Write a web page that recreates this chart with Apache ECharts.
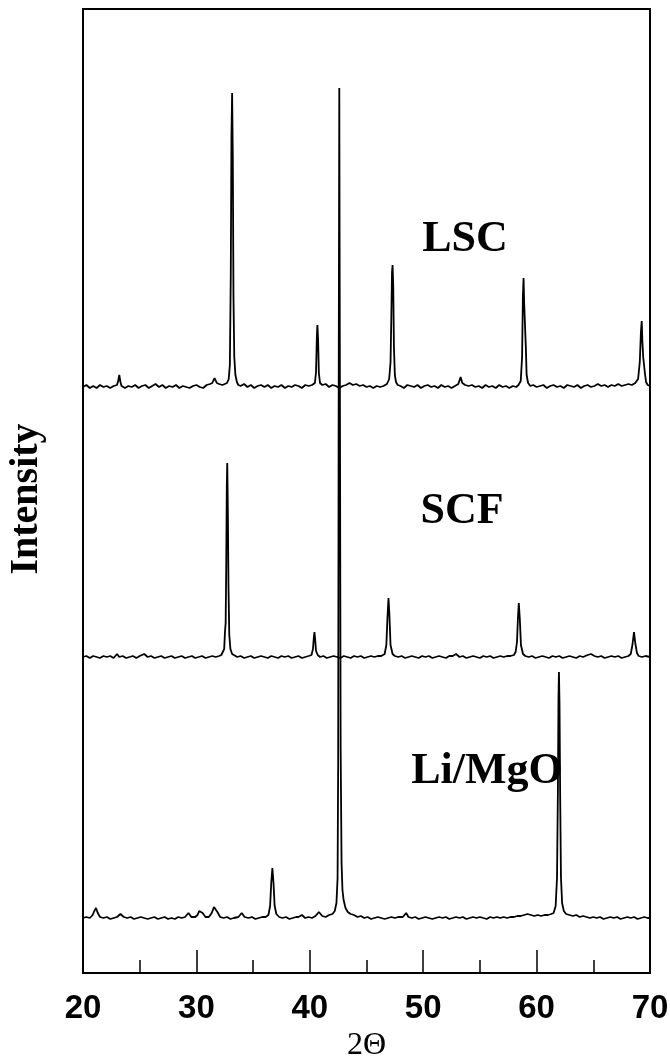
<!DOCTYPE html>
<html>
<head>
<meta charset="utf-8">
<script src="https://cdn.jsdelivr.net/npm/echarts@6/dist/echarts.min.js"></script>
<style>
  html, body { margin: 0; padding: 0; background: #fff; }
  #chart { width: 670px; height: 1059px; }
</style>
</head>
<body>
<div id="chart"></div>
<script>
// X-ray diffraction patterns: [2-theta (deg), intensity above the pattern's own baseline]
const lscPattern = [
  [20.0,0],[20.3,2],[20.6,-1],[20.9,1],[21.2,-1],[21.5,2],[21.8,0],[22.1,1],[22.4,-1],[22.7,1],
  [23.0,2],[23.1,6],[23.2,12],[23.3,5],[23.4,1],[23.7,-1],[24.0,1],[24.3,0],[24.6,2],[24.9,-1],
  [25.2,1],[25.5,2],[25.8,-1],[26.1,1],[26.4,3],[26.7,0],[27.0,2],[27.3,-1],[27.6,1],[27.9,0],
  [28.2,2],[28.5,-1],[28.8,1],[29.1,0],[29.4,-1],[29.7,1],[30.0,2],[30.3,0],[30.6,-1],[30.9,2],
  [31.2,3],[31.4,4],[31.6,9],[31.8,4],[32.0,3],[32.3,2],[32.5,3],[32.7,4],[32.85,8],[32.95,22],
  [33.03,110],[33.09,250],[33.15,294],[33.21,230],[33.27,90],[33.34,30],[33.44,12],[33.57,5],[33.7,2],[33.9,1],
  [34.2,3],[34.5,0],[34.8,2],[35.1,-1],[35.4,1],[35.7,2],[36.0,0],[36.3,2],[36.6,-1],[36.9,1],
  [37.2,0],[37.5,2],[37.8,-1],[38.1,1],[38.4,0],[38.7,2],[39.0,1],[39.3,-1],[39.6,2],[39.9,1],
  [40.2,2],[40.45,4],[40.55,15],[40.62,50],[40.67,62],[40.73,48],[40.8,14],[40.9,4],[41.1,2],[41.4,3],
  [41.7,0],[42.0,2],[42.3,1],[42.6,-1],[42.9,1],[43.2,2],[43.5,4],[43.8,2],[44.1,3],[44.4,1],
  [44.7,2],[45.0,0],[45.3,1],[45.6,-1],[45.9,1],[46.2,0],[46.5,1],[46.8,3],[47.0,8],[47.12,25],
  [47.19,70],[47.25,115],[47.3,122],[47.36,100],[47.42,40],[47.5,12],[47.6,5],[47.75,2],[48.0,1],[48.3,-1],
  [48.6,2],[48.9,1],[49.2,0],[49.5,2],[49.8,-1],[50.1,1],[50.4,2],[50.7,0],[51.0,1],[51.3,-1],
  [51.6,2],[51.9,0],[52.2,1],[52.5,-1],[52.8,1],[53.1,3],[53.3,10],[53.45,4],[53.7,2],[54.0,1],
  [54.3,2],[54.6,0],[54.9,1],[55.2,-1],[55.5,2],[55.8,0],[56.1,1],[56.4,-1],[56.7,2],[57.0,0],
  [57.3,1],[57.6,-1],[57.9,1],[58.2,0],[58.4,2],[58.6,6],[58.72,30],[58.79,90],[58.85,109],[58.9,85],
  [58.95,70],[59.0,72],[59.05,40],[59.12,12],[59.25,4],[59.45,1],[59.7,2],[60.0,0],[60.3,1],[60.6,2],
  [60.9,-1],[61.2,1],[61.5,2],[61.8,0],[62.1,1],[62.4,-1],[62.7,2],[63.0,1],[63.3,0],[63.6,2],
  [63.9,-1],[64.2,1],[64.5,2],[64.8,0],[65.1,1],[65.4,3],[65.7,1],[66.0,2],[66.3,0],[66.6,2],
  [66.9,1],[67.2,3],[67.5,1],[67.8,2],[68.1,3],[68.4,2],[68.7,4],[68.95,8],[69.1,25],[69.2,55],
  [69.27,66],[69.33,45],[69.4,30],[69.47,28],[69.55,14],[69.65,5],[69.8,2],[70.0,1]
];

const scfPattern = [
  [20.0,0],[20.3,1],[20.6,-1],[20.9,1],[21.2,0],[21.5,-1],[21.8,1],[22.1,0],[22.4,1],[22.7,-1],
  [23.0,3],[23.2,0],[23.5,1],[23.8,-1],[24.1,0],[24.4,1],[24.7,-1],[25.0,1],[25.4,3],[25.7,0],
  [26.0,1],[26.3,-1],[26.6,0],[26.9,1],[27.2,-1],[27.5,0],[27.8,1],[28.1,-1],[28.4,0],[28.7,1],
  [29.0,-1],[29.3,0],[29.6,1],[29.9,-1],[30.2,0],[30.5,1],[30.8,-1],[31.1,0],[31.4,1],[31.7,0],
  [32.0,1],[32.2,2],[32.35,4],[32.45,8],[32.52,25],[32.58,34],[32.63,90],[32.68,170],[32.72,194],[32.77,150],
  [32.83,70],[32.9,22],[33.0,8],[33.15,3],[33.3,1],[33.6,0],[33.9,1],[34.2,-1],[34.5,0],[34.8,1],
  [35.1,-1],[35.4,0],[35.7,1],[36.0,0],[36.3,-1],[36.6,1],[36.9,0],[37.2,-1],[37.5,1],[37.8,0],
  [38.1,1],[38.4,-1],[38.7,0],[39.0,1],[39.3,-1],[39.6,0],[39.9,1],[40.15,2],[40.28,8],[40.36,20],
  [40.41,25],[40.47,18],[40.55,6],[40.7,2],[40.9,0],[41.2,1],[41.5,-1],[41.8,0],[42.1,1],[42.4,0],
  [42.7,-1],[43.0,1],[43.3,0],[43.6,-1],[43.9,1],[44.2,0],[44.5,1],[44.8,-1],[45.1,0],[45.4,1],
  [45.7,0],[46.0,1],[46.3,1],[46.6,3],[46.75,12],[46.85,40],[46.94,59],[47.02,42],[47.12,12],[47.3,3],
  [47.5,1],[47.8,0],[48.1,1],[48.4,-1],[48.7,0],[49.0,1],[49.3,0],[49.6,-1],[49.9,1],[50.2,0],
  [50.5,1],[50.8,-1],[51.1,0],[51.4,1],[51.7,0],[52.0,-1],[52.3,1],[52.6,1],[52.9,3],[53.2,0],
  [53.5,1],[53.8,-1],[54.1,0],[54.4,1],[54.7,0],[55.0,-1],[55.3,1],[55.6,0],[55.9,1],[56.2,-1],
  [56.5,0],[56.8,1],[57.1,0],[57.4,1],[57.7,1],[58.0,2],[58.15,5],[58.27,15],[58.35,38],[58.43,54],
  [58.52,38],[58.62,12],[58.8,3],[59.0,1],[59.3,0],[59.6,1],[59.9,-1],[60.2,0],[60.5,1],[60.8,0],
  [61.1,-1],[61.4,1],[61.7,0],[62.0,1],[62.3,-1],[62.6,0],[62.9,1],[63.2,0],[63.5,-1],[63.8,1],
  [64.1,0],[64.5,2],[64.8,3],[65.1,1],[65.4,0],[65.7,1],[66.0,-1],[66.3,0],[66.6,1],[66.9,0],
  [67.2,1],[67.5,-1],[67.8,0],[68.1,1],[68.3,3],[68.45,12],[68.59,25],[68.7,14],[68.85,4],[69.0,1],
  [69.3,0],[69.6,1],[70.0,0]
];

const limgoPattern = [
  [20.0,0],[20.3,1],[20.6,0],[20.85,3],[21.0,7],[21.15,10],[21.3,5],[21.5,1],[21.8,0],[22.1,1],
  [22.4,-1],[22.7,0],[23.0,1],[23.3,4],[23.6,1],[23.9,0],[24.2,1],[24.5,-1],[24.8,0],[25.1,1],
  [25.4,0],[25.7,-1],[26.0,0],[26.3,1],[26.6,-1],[26.9,0],[27.2,1],[27.5,-1],[27.8,0],[28.1,-1],
  [28.4,1],[28.7,0],[29.0,1],[29.3,5],[29.55,1],[29.9,1],[30.1,3],[30.25,7],[30.4,9],[30.55,5],
  [30.8,1],[31.1,1],[31.35,5],[31.55,11],[31.7,12],[31.85,6],[32.1,1],[32.4,0],[32.7,1],[33.0,-1],
  [33.3,0],[33.7,1],[34.0,5],[34.25,1],[34.6,0],[34.9,1],[35.2,-1],[35.5,0],[35.8,1],[36.1,1],
  [36.35,3],[36.5,12],[36.6,35],[36.7,50],[36.8,35],[36.9,12],[37.05,4],[37.3,1],[37.6,0],[37.9,1],
  [38.2,-1],[38.5,0],[38.8,1],[39.0,1],[39.3,3],[39.6,0],[39.9,1],[40.2,0],[40.5,2],[40.8,6],
  [41.1,2],[41.4,1],[41.7,3],[42.0,4],[42.2,7],[42.35,15],[42.45,40],[42.5,150],[42.54,480],[42.6,830],
  [42.66,500],[42.72,170],[42.8,55],[42.88,28],[42.98,18],[43.15,10],[43.35,6],[43.6,4],[43.9,3],[44.2,1],
  [44.5,2],[44.8,0],[45.1,1],[45.4,-1],[45.7,0],[46.0,1],[46.3,0],[46.6,-1],[46.9,0],[47.2,1],
  [47.5,0],[47.8,1],[48.2,1],[48.5,5],[48.7,1],[49.0,0],[49.3,1],[49.6,-1],[49.9,0],[50.2,1],
  [50.5,0],[50.8,-1],[51.1,0],[51.4,1],[51.7,0],[52.0,1],[52.3,-1],[52.6,0],[52.9,1],[53.2,0],
  [53.5,1],[53.8,-1],[54.1,0],[54.4,1],[54.7,0],[55.0,1],[55.3,0],[55.6,-1],[55.9,1],[56.2,0],
  [56.5,1],[56.8,0],[57.1,1],[57.4,0],[57.7,1],[58.0,1],[58.3,2],[58.6,2],[58.9,3],[59.2,4],
  [59.5,3],[59.8,2],[60.1,3],[60.4,2],[60.7,3],[61.0,3],[61.3,4],[61.5,5],[61.68,12],[61.8,40],
  [61.88,130],[61.93,220],[61.97,246],[62.02,215],[62.08,120],[62.15,40],[62.25,15],[62.4,7],[62.6,4],[62.9,3],
  [63.2,2],[63.5,3],[63.8,1],[64.1,2],[64.4,1],[64.7,0],[65.0,1],[65.3,0],[65.6,1],[65.9,-1],
  [66.2,0],[66.5,1],[66.8,0],[67.1,1],[67.4,-1],[67.7,0],[68.0,1],[68.3,0],[68.6,1],[68.9,-1],
  [69.2,0],[69.5,1],[69.8,0],[70.0,0]
];

// sample names and the vertical offset each pattern is stacked at
const sampleNames = ['LSC', 'SCF', 'Li/MgO'];
const patterns = [lscPattern, scfPattern, limgoPattern];
const stackOffsets = [586, 316, 55];
const intensityMax = 964;

const xMin = 20, xMax = 70, xStep = 10;

const chart = echarts.init(document.getElementById('chart'), null, { renderer: 'canvas' });

const series = patterns.map((pat, i) => ({
  name: sampleNames[i],
  type: 'line',
  showSymbol: false,
  symbol: 'none',
  silent: true,
  animation: false,
  sampling: null,
  lineStyle: { color: '#000', width: 1.8 },
  data: pat.map(([a, c]) => [a, c + stackOffsets[i]])
}));

// sample name captions beside each pattern
const captionPos = [[465, 240], [462, 512], [487, 772]];

chart.setOption({
  animation: false,
  backgroundColor: '#fff',
  grid: {
    left: 83, right: 20, top: 9, bottom: 86,
    outerBoundsMode: 'none',
    containLabel: false,
    show: true, borderColor: '#000', borderWidth: 2, backgroundColor: 'transparent'
  },
  xAxis: {
    type: 'value',
    min: xMin, max: xMax, interval: xStep,
    name: '2\u0398',
    nameLocation: 'middle',
    nameGap: 52,
    nameTextStyle: { fontFamily: 'Liberation Serif', fontSize: 32, color: '#000' },
    axisLine: { show: true, lineStyle: { color: '#000', width: 2 } },
    axisTick: { show: true, inside: true, length: 23, lineStyle: { color: '#000', width: 1.5 } },
    minorTick: { show: true, splitNumber: 2, length: 13, lineStyle: { color: '#000', width: 1.5 } },
    axisLabel: {
      margin: 19, color: '#000', fontFamily: 'Liberation Sans', fontWeight: 'bold', fontSize: 33,
      showMinLabel: true, showMaxLabel: true, hideOverlap: false
    },
    splitLine: { show: false }
  },
  yAxis: {
    type: 'value',
    min: 0, max: intensityMax,
    name: 'Intensity',
    nameLocation: 'middle',
    nameRotate: 90,
    nameGap: 36,
    nameTextStyle: { fontFamily: 'Liberation Serif', fontWeight: 'bold', fontSize: 40, color: '#000', padding: [0, 16, 0, 0] },
    axisLine: { show: true, lineStyle: { color: '#000', width: 2 } },
    axisTick: { show: false },
    axisLabel: { show: false },
    splitLine: { show: false }
  },
  graphic: sampleNames.map((n, i) => ({
    type: 'text',
    x: captionPos[i][0], y: captionPos[i][1],
    silent: true,
    style: {
      text: n, fill: '#000',
      font: 'bold 44px "Liberation Serif"',
      textAlign: 'center', textVerticalAlign: 'middle'
    }
  })),
  series
});
</script>
</body>
</html>
